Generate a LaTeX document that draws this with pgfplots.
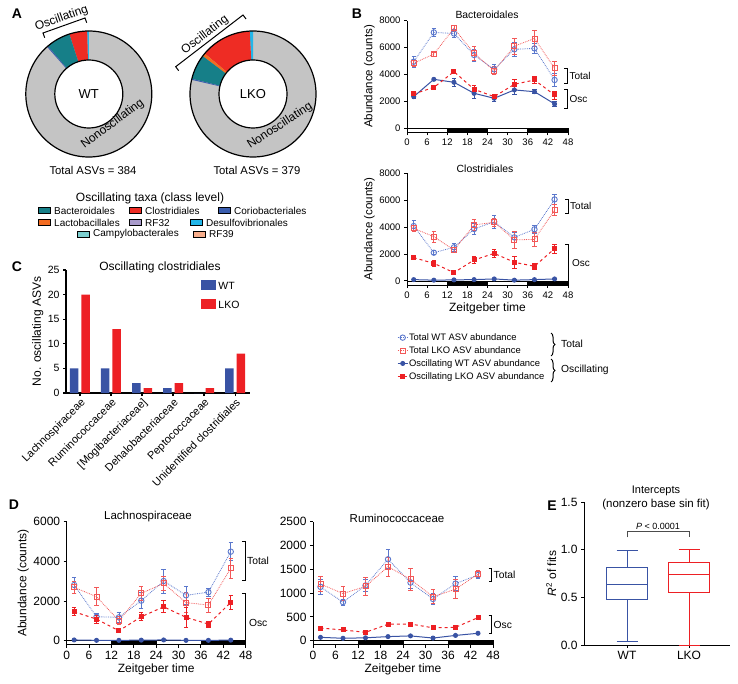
\documentclass[border=0pt]{standalone}
\usepackage{fontspec}
\setmainfont{Liberation Sans}
\usepackage{pgfplots}
\pgfplotsset{compat=1.18}
\usepgfplotslibrary{statistics}
\usetikzlibrary{decorations.pathreplacing}

\definecolor{wt}{HTML}{3953A4}
\definecolor{lko}{HTML}{ED2024}
\definecolor{wtl}{HTML}{5A77CC}
\definecolor{lkol}{HTML}{F25858}
\definecolor{cBact}{HTML}{167F88}
\definecolor{cClos}{HTML}{EE2C24}
\definecolor{cCorio}{HTML}{3A5DAE}
\definecolor{cLacto}{HTML}{F36C21}
\definecolor{cRF32}{HTML}{A99BCB}
\definecolor{cDesulfo}{HTML}{22B6E9}
\definecolor{cCampy}{HTML}{7CCFD0}
\definecolor{cRF39}{HTML}{F8AE8C}
\definecolor{nonosc}{HTML}{C4C4C4}

\newcommand{\fs}[1]{\fontsize{#1}{#1}\selectfont}
% bracket: x, y-top, y-bottom (axis cs); ticks pointing left
\newcommand{\brk}[3]{\draw[line width=0.9pt] ([xshift=-3pt]axis cs:#1,#2) -- (axis cs:#1,#2) -- (axis cs:#1,#3) -- ([xshift=-3pt]axis cs:#1,#3);}

\pgfplotsset{
  tsaxis/.style={
    scale only axis, anchor=south west,
    axis x line*=bottom, axis y line*=left,
    xmin=0, xmax=48, xtick={0,6,...,48},
    tick align=outside, major tick length=3pt,
    axis line style={-, line width=1pt},
    every tick/.style={black, line width=1pt},
    clip=false, scaled y ticks=false,
    /pgf/number format/assume math mode=true,
    /pgf/number format/1000 sep={},
    xlabel={Zeitgeber time}, ylabel={Abundance (counts)},
    xlabel style={inner sep=1pt}, ylabel style={inner sep=1pt},
    legend image code/.code={\draw[mark repeat=2, mark phase=2, ##1] plot coordinates {(0pt,0pt) (5pt,0pt) (10pt,0pt)};},
  },
  eb/.style={/pgfplots/error bars/y dir=both, /pgfplots/error bars/y explicit,
    /pgfplots/error bars/error bar style={solid, line width=0.8pt},
    /pgfplots/error bars/error mark options={rotate=90, mark size=2.2pt, line width=0.8pt, solid}},
  ld/.style={forget plot, draw=black, line width=0.6pt, mark=none, solid},
  totwt/.style={color=wtl, densely dotted, line width=0.8pt, mark=o, mark size=2.7pt, mark options={solid, line width=0.9pt}, eb},
  totlko/.style={color=lkol, densely dotted, line width=0.8pt, mark=square, mark size=2.5pt, mark options={solid, line width=0.9pt}, eb},
  oscwt/.style={color=wt, solid, line width=1pt, mark=*, mark size=2pt, eb},
  osclko/.style={color=lko, dashed, line width=1pt, mark=square*, mark size=2pt, mark options={solid}, eb},
  swatch/.style={legend image code/.code={\fill[##1] (0pt,-3.5pt) rectangle (15pt,6pt);}},
}

\begin{document}
\begin{tikzpicture}[x=1pt, y=1pt, font=\fs{10}]
\useasboundingbox (0,0) rectangle (738,-684);

% ---------------- panel letters
\foreach \l/\px/\py in {A/17/14, B/357/14, C/17/267, D/14/505, E/552/506}
  \node[font=\bfseries\fs{14}] at (\px,-\py) {\l};

% ---------------- A: donuts
\begin{scope}[shift={(88.8,-94)}]
  \fill[nonosc] (0,0) circle (63pt);
  \foreach \a/\b/\c in {90/91.5/cDesulfo, 91.5/108/cClos, 108/130.5/cBact, 130.5/131.5/cCorio}
    \fill[\c] (0,0) -- (\a:63pt) arc[start angle=\a, end angle=\b, radius=63pt] -- cycle;
  \draw[line width=1.2pt] (0,0) circle (63pt);
  \draw[line width=1.2pt, fill=white] (0,0) circle (34pt);
  \node[font=\fs{13}] at (0,0) {WT};
\end{scope}
\begin{scope}[shift={(253,-94)}]
  \fill[nonosc] (0,0) circle (63pt);
  \foreach \a/\b/\c in {90/93/cDesulfo, 93/140/cClos, 140/143/cLacto, 143/166/cBact, 166/167/cCorio}
    \fill[\c] (0,0) -- (\a:63pt) arc[start angle=\a, end angle=\b, radius=63pt] -- cycle;
  \draw[line width=1.2pt] (0,0) circle (63pt);
  \draw[line width=1.2pt, fill=white] (0,0) circle (34pt);
  \node[font=\fs{13}] at (0,0) {LKO};
\end{scope}
\node[rotate=37, font=\fs{12}] at (112.7,-124) {Nonoscillating};
\node[rotate=33, font=\fs{12}] at (280,-126) {Nonoscillating};
\draw[line width=1pt] (44.7,-37.7) -- (43,-33) -- (85,-18) -- (86.7,-22.7);
\node[rotate=19.6, anchor=south, inner sep=1.5pt, font=\fs{12}] at (64,-25.5) {Oscillating};
\draw[line width=1pt] (178.7,-70.7) -- (175.7,-66.7) -- (243,-15) -- (246,-19);
\node[rotate=37.5, anchor=south, inner sep=1.5pt, font=\fs{12}] at (209.4,-40.9) {Oscillating};
\node[font=\fs{11.3}] at (93,-170) {Total ASVs = 384};
\node[font=\fs{11.3}] at (257,-170) {Total ASVs = 379};

% A legend
\node[font=\fs{12}] at (150,-198) {Oscillating taxa (class level)};
\foreach \sx/\sy/\c/\t in {38/210.7/cBact/Bacteroidales, 129/210.7/cClos/Clostridiales, 218/210.7/cCorio/Coriobacteriales,
    38/222.7/cLacto/Lactobacillales, 129/222.7/cRF32/RF32, 190/222.7/cDesulfo/Desulfovibrionales,
    77/234.3/cCampy/Campylobacterales, 193/234.3/cRF39/RF39} {
  \draw[fill=\c, line width=0.8pt] (\sx,-\sy+3) rectangle ++(12,-6);
  \node[anchor=west, font=\fs{10}, inner sep=0pt] at (\sx+16,-\sy) {\t};
}

% ---------------- B top: Bacteroidales
\begin{axis}[tsaxis, at={(407pt,-132.3pt)}, width=161pt, height=111.6pt,
  ymin=-300, ymax=8000, ytick={0,2000,...,8000}, xlabel={},
  ticklabel style={font=\fs{9.5}}, ylabel style={font=\fs{11.5}}]
\addplot[ld, fill=white] coordinates {(0,-300) (48,-300) (48,0) (0,0)} -- cycle;
\addplot[ld, fill=black] coordinates {(12,-300) (24,-300) (24,0) (12,0)} -- cycle;
\addplot[ld, fill=black] coordinates {(36,-300) (48,-300) (48,0) (36,0)} -- cycle;
\addplot[totwt] coordinates {(2,4950) +- (0,400) (8,7130) +- (0,300) (14,7050) +- (0,300) (20,5450) +- (0,450)
  (26,4380) +- (0,400) (32,5870) +- (0,500) (38,5940) +- (0,400) (44,3590) +- (0,500)};
\addplot[totlko] coordinates {(2,4830) +- (0,200) (8,5520) +- (0,150) (14,7430) +- (0,200) (20,5570) +- (0,500)
  (26,4280) +- (0,300) (32,6110) +- (0,600) (38,6680) +- (0,600) (44,4460) +- (0,500)};
\addplot[oscwt] coordinates {(2,2350) +- (0,150) (8,3640) +- (0,100) (14,3420) +- (0,300) (20,2600) +- (0,350)
  (26,2230) +- (0,250) (32,2850) +- (0,300) (38,2720) +- (0,150) (44,1810) +- (0,200)};
\addplot[osclko] coordinates {(2,2550) +- (0,100) (8,3040) +- (0,100) (14,4210) +- (0,150) (20,2900) +- (0,300)
  (26,2350) +- (0,150) (32,3270) +- (0,350) (38,3590) +- (0,250) (44,2475) +- (0,300)};
\brk{47.8}{4460}{3340}
\node[anchor=west, font=\fs{10}, inner sep=2pt] at (axis cs:47.8,3900) {Total};
\brk{47.8}{2850}{1490}
\node[anchor=west, font=\fs{10}, inner sep=2pt] at (axis cs:47.8,2170) {Osc};
\end{axis}
\node[font=\fs{10.4}] at (487,-15) {Bacteroidales};

% ---------------- B bottom: Clostridiales
\begin{axis}[tsaxis, at={(407pt,-285pt)}, width=161pt, height=111.7pt,
  ymin=-300, ymax=8000, ytick={0,2000,...,8000},
  ticklabel style={font=\fs{9.5}}, ylabel style={font=\fs{11.5}}, xlabel style={font=\fs{12}},
  legend style={draw=none, fill=none, at={(-0.062,-0.425)}, anchor=north west, font=\fs{9.4},
    row sep=3pt, inner sep=0pt, nodes={inner sep=0.8pt}, cells={anchor=west}}]
\addplot[ld, fill=white] coordinates {(0,-300) (48,-300) (48,0) (0,0)} -- cycle;
\addplot[ld, fill=black] coordinates {(12,-300) (24,-300) (24,0) (12,0)} -- cycle;
\addplot[ld, fill=black] coordinates {(36,-300) (48,-300) (48,0) (36,0)} -- cycle;
\addplot[totwt] coordinates {(2,4080) +- (0,400) (8,2100) +- (0,150) (14,2500) +- (0,300) (20,3860) +- (0,400)
  (26,4400) +- (0,500) (32,3240) +- (0,400) (38,3840) +- (0,300) (44,6060) +- (0,400)};
\addlegendentry{Total WT ASV abundance}
\addplot[totlko] coordinates {(2,3910) +- (0,200) (8,3290) +- (0,400) (14,2300) +- (0,200) (20,4160) +- (0,400)
  (26,4360) +- (0,300) (32,3050) +- (0,600) (38,3090) +- (0,500) (44,5270) +- (0,400)};
\addlegendentry{Total LKO ASV abundance}
\addplot[oscwt] coordinates {(2,100) +- (0,30) (8,60) +- (0,20) (14,80) +- (0,20) (20,100) +- (0,30)
  (26,150) +- (0,40) (32,60) +- (0,20) (38,100) +- (0,30) (44,150) +- (0,40)};
\addlegendentry{Oscillating WT ASV abundance}
\addplot[osclko] coordinates {(2,1730) +- (0,150) (8,1310) +- (0,200) (14,620) +- (0,100) (20,1560) +- (0,250)
  (26,2050) +- (0,300) (32,1390) +- (0,450) (38,1090) +- (0,200) (44,2400) +- (0,350)};
\addlegendentry{Oscillating LKO ASV abundance}
\brk{48}{6060}{5020}
\node[anchor=west, font=\fs{10}, inner sep=2pt] at (axis cs:48,5540) {Total};
\draw[line width=0.9pt] ([xshift=-3pt]axis cs:48,2720) -- (axis cs:48,2720) -- (axis cs:48,0);
\node[anchor=west, font=\fs{10}, inner sep=2pt] at (axis cs:48.6,1340) {Osc};
\end{axis}
\node[font=\fs{10.4}] at (485,-169) {Clostridiales};
\draw[decorate, decoration={brace, amplitude=4pt}, line width=1pt] (551,-333) -- (551,-356);
\node[anchor=west, font=\fs{10.3}, inner sep=0pt] at (561,-344) {Total};
\draw[decorate, decoration={brace, amplitude=4pt}, line width=1pt] (551,-359) -- (551,-382);
\node[anchor=west, font=\fs{10.3}, inner sep=0pt] at (561,-370) {Oscillating};

% ---------------- C: bar chart
\begin{axis}[scale only axis, anchor=south west, at={(66pt,-393pt)}, width=184pt, height=123pt,
  ybar=3pt, bar width=8.5pt, ymin=0, ymax=25, ytick={0,5,...,25},
  xmin=-0.45, xmax=5.48, xtick={0,...,5},
  xticklabels={Lachnospiraceae, Ruminococcaceae, {[Mogibacteriaceae]}, Dehalobacteriaceae, Peptococcaceae, Unidentified clostridiales},
  axis x line*=bottom, axis y line*=left, axis line style={-, line width=1.2pt},
  tick align=outside, major tick length=3pt, every tick/.style={black, line width=1.2pt},
  /pgf/number format/assume math mode=true,
  yticklabel style={font=\fs{10.5}},
  xticklabel style={rotate=45, anchor=north east, font=\fs{11}, inner sep=1pt},
  ylabel={No. oscillating ASVs}, ylabel style={font=\fs{12}, inner sep=1pt},
  legend style={draw=none, fill=none, at={(0.735,0.92)}, anchor=north west, font=\fs{10.5},
    row sep=6pt, inner sep=0pt, cells={anchor=west}}]
\addplot[fill=wt, draw=none, swatch] coordinates {(0,5) (1,5) (2,2) (3,1) (4,0) (5,5)};
\addlegendentry{WT}
\addplot[fill=lko, draw=none, swatch] coordinates {(0,20) (1,13) (2,1) (3,2) (4,1) (5,8)};
\addlegendentry{LKO}
\end{axis}
\node[font=\fs{12}] at (160,-267) {Oscillating clostridiales};

% ---------------- D left: Lachnospiraceae
\begin{axis}[tsaxis, at={(66.7pt,-644.7pt)}, width=179pt, height=123pt,
  ymin=-200, ymax=6000, ytick={0,2000,4000,6000},
  ticklabel style={font=\fs{12}}, label style={font=\fs{12}}]
\addplot[ld, fill=white] coordinates {(0,-200) (48,-200) (48,0) (0,0)} -- cycle;
\addplot[ld, fill=black] coordinates {(12,-200) (24,-200) (24,0) (12,0)} -- cycle;
\addplot[ld, fill=black] coordinates {(36,-200) (48,-200) (48,0) (36,0)} -- cycle;
\addplot[totwt] coordinates {(2,2810) +- (0,400) (8,1210) +- (0,150) (14,1180) +- (0,250) (20,2020) +- (0,400)
  (26,3010) +- (0,600) (32,2290) +- (0,450) (38,2450) +- (0,200) (44,4490) +- (0,450)};
\addplot[totlko] coordinates {(2,2690) +- (0,300) (8,2220) +- (0,450) (14,1010) +- (0,200) (20,2390) +- (0,350)
  (26,2890) +- (0,350) (32,1920) +- (0,500) (38,1800) +- (0,350) (44,3650) +- (0,500)};
\addplot[oscwt] coordinates {(2,40) (8,20) (14,20) (20,30) (26,40) (32,20) (38,20) (44,30)};
\addplot[osclko] coordinates {(2,1460) +- (0,200) (8,1090) +- (0,200) (14,500) +- (0,80) (20,1210) +- (0,200)
  (26,1710) +- (0,300) (32,1180) +- (0,500) (38,840) +- (0,150) (44,1930) +- (0,350)};
\brk{47.8}{4990}{3040}
\node[anchor=west, font=\fs{10.3}, inner sep=2pt] at (axis cs:47.8,4020) {Total};
\draw[line width=0.9pt] ([xshift=-3pt]axis cs:47.8,2390) -- (axis cs:47.8,2390) -- (axis cs:47.8,0);
\node[anchor=west, font=\fs{10.3}, inner sep=2pt] at (axis cs:48.3,890) {Osc};
\end{axis}
\node[font=\fs{11.5}] at (148,-517) {Lachnospiraceae};

% ---------------- D right: Ruminococcaceae
\begin{axis}[tsaxis, at={(313pt,-644.7pt)}, width=180pt, height=123pt,
  ymin=-85, ymax=2500, ytick={0,500,...,2500}, ylabel={},
  ticklabel style={font=\fs{12}}, label style={font=\fs{12}}]
\addplot[ld, fill=white] coordinates {(0,-85) (48,-85) (48,0) (0,0)} -- cycle;
\addplot[ld, fill=black] coordinates {(12,-85) (24,-85) (24,0) (12,0)} -- cycle;
\addplot[ld, fill=black] coordinates {(36,-85) (48,-85) (48,0) (36,0)} -- cycle;
\addplot[totwt] coordinates {(2,1130) +- (0,150) (8,810) +- (0,60) (14,1160) +- (0,120) (20,1710) +- (0,200)
  (26,1220) +- (0,130) (32,875) +- (0,120) (38,1200) +- (0,150) (44,1380) +- (0,80)};
\addplot[totlko] coordinates {(2,1190) +- (0,150) (8,990) +- (0,140) (14,1140) +- (0,180) (20,1555) +- (0,200)
  (26,1290) +- (0,230) (32,925) +- (0,150) (38,1080) +- (0,200) (44,1400) +- (0,70)};
\addplot[oscwt] coordinates {(2,70) (8,50) (14,60) (20,85) (26,100) (32,55) (38,110) (44,155)};
\addplot[osclko] coordinates {(2,265) (8,225) (14,175) (20,345) (26,350) (32,270) +- (0,30) (38,280) (44,485)};
\brk{47.6}{1520}{1240}
\node[anchor=west, font=\fs{10.3}, inner sep=2pt] at (axis cs:47.6,1380) {Total};
\brk{47.6}{520}{155}
\node[anchor=west, font=\fs{10.3}, inner sep=2pt] at (axis cs:47.6,330) {Osc};
\end{axis}
\node[font=\fs{11.5}] at (397,-518) {Ruminococcaceae};

% ---------------- E: boxplots
\begin{axis}[scale only axis, anchor=south west, at={(584pt,-645pt)}, width=146pt, height=143pt,
  boxplot/draw direction=y,
  xmin=0.306, xmax=2.66, ymin=0, ymax=1.5, ytick={0,0.5,1,1.5},
  xtick={1,2}, xticklabels={WT,LKO},
  axis x line*=bottom, axis y line*=left, axis line style={-, line width=1pt},
  tick align=outside, major tick length=3pt, every tick/.style={black, line width=1pt},
  clip=false,
  /pgf/number format/assume math mode=true,
  yticklabel style={font=\fs{12}, /pgf/number format/.cd, fixed, fixed zerofill, precision=1},
  xticklabel style={font=\fs{12}},
  ylabel={\textit{R}\textsuperscript{2} of fits}, ylabel style={font=\fs{12}, inner sep=1pt}]
\addplot[draw=wt, line width=1pt, solid, mark=none,
  boxplot prepared={draw position=1, lower whisker=0.04, lower quartile=0.48, median=0.63,
    upper quartile=0.81, upper whisker=0.99, box extend=0.66, whisker extend=0.34}] coordinates {};
\addplot[draw=lko, line width=1pt, solid, mark=none,
  boxplot prepared={draw position=2, lower whisker=0.0, lower quartile=0.55, median=0.74,
    upper quartile=0.87, upper whisker=1.0, box extend=0.66, whisker extend=0.34}] coordinates {};
\draw[line width=1pt, black!70] (axis cs:1,1.13) -- (axis cs:1,1.19) -- (axis cs:2,1.19) -- (axis cs:2,1.13);
\node[anchor=south, font=\fs{9}, inner sep=1.5pt] at (axis cs:1.5,1.19) {\textit{P} < 0.0001};
\end{axis}
\node[font=\fs{11}] at (656,-491) {Intercepts};
\node[font=\fs{11.5}] at (656,-505) {(nonzero base sin fit)};

\end{tikzpicture}
\end{document}
